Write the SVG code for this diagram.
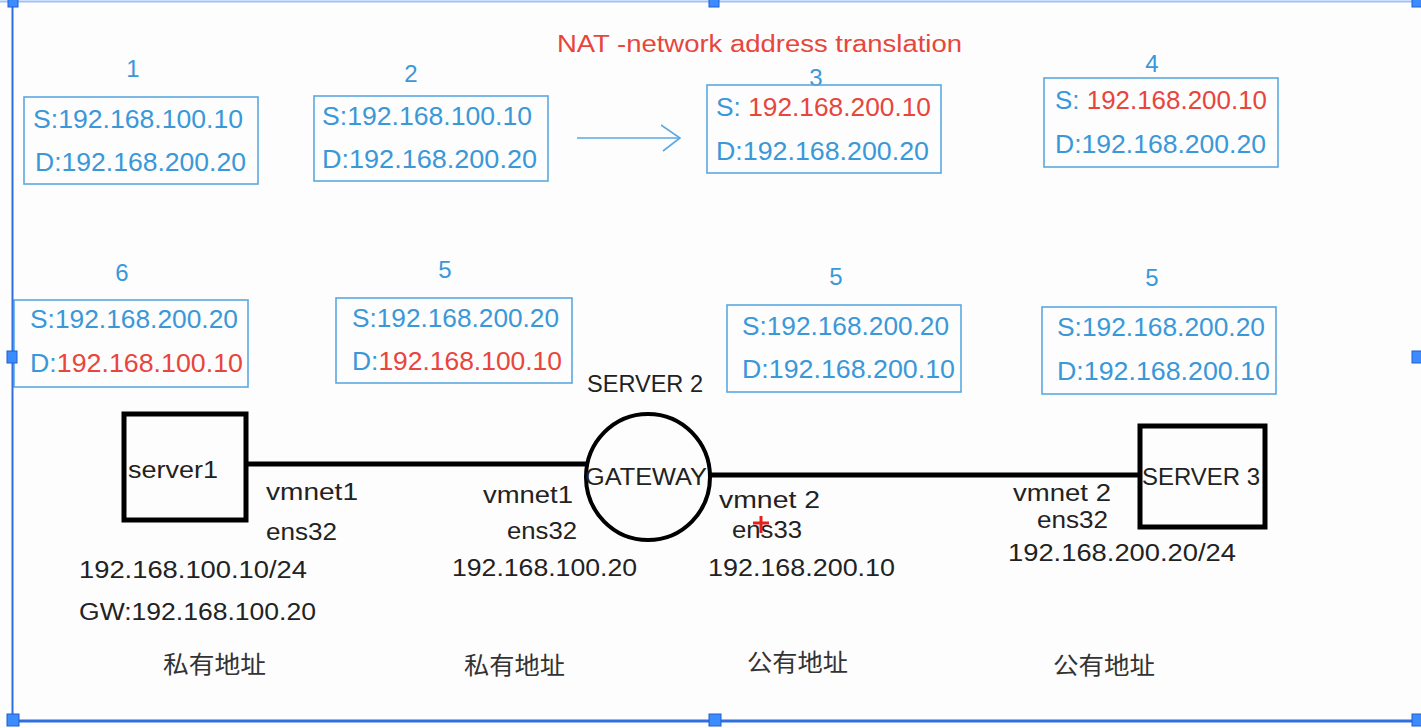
<svg xmlns="http://www.w3.org/2000/svg" width="1421" height="728" viewBox="0 0 1421 728">
<style>
.bg{fill:#fdfdfd}
.pkt{fill:none;stroke:#5aa9e0;stroke-width:1.6}
.bt{font-family:"Liberation Sans",Arial,sans-serif;font-size:25px;fill:#3a98d8}
.r{fill:#e8453c}
.num{font-family:"Liberation Sans",Arial,sans-serif;font-size:24px;fill:#3a98d8;text-anchor:middle}
.lbl{font-family:"Liberation Sans",Arial,sans-serif;font-size:23px;fill:#222}
.cjk{font-family:"Noto Sans CJK SC",sans-serif;font-size:24px;fill:#333}
.dev{fill:none;stroke:#000;stroke-width:5}
.wire{stroke:#000;stroke-width:5}
.sel{fill:#3c8cff;stroke:#1f5fd0;stroke-width:1}
</style>
<defs>
<marker id="chev" viewBox="0 0 20 30" refX="19" refY="15" markerWidth="20" markerHeight="30" markerUnits="userSpaceOnUse" orient="auto">
<path d="M0,2 L19,15 L2,28" fill="none" stroke="#5aa9e0" stroke-width="1.6"/>
</marker>
</defs>
<rect class="bg" x="0" y="0" width="1421" height="728"/>

<text x="557" y="52" font-family="Liberation Sans,Arial,sans-serif" font-size="23" fill="#e8453c" textLength="405" lengthAdjust="spacingAndGlyphs">NAT -network address translation</text>

<g id="packet1">
<text class="num" x="133" y="77">1</text>
<rect class="pkt" x="24" y="97" width="234" height="87"/>
<text class="bt" x="33" y="128" textLength="210" lengthAdjust="spacingAndGlyphs">S:192.168.100.10</text>
<text class="bt" x="35" y="171" textLength="211" lengthAdjust="spacingAndGlyphs">D:192.168.200.20</text>
</g>
<g id="packet2">
<text class="num" x="411" y="82">2</text>
<rect class="pkt" x="314" y="96" width="234" height="85"/>
<text class="bt" x="322" y="125" textLength="210" lengthAdjust="spacingAndGlyphs">S:192.168.100.10</text>
<text class="bt" x="322" y="168" textLength="215" lengthAdjust="spacingAndGlyphs">D:192.168.200.20</text>
</g>
<g id="packet3">
<text class="num" x="816" y="86">3</text>
<rect class="pkt" x="707" y="85" width="234" height="88"/>
<text class="bt" x="716" y="116" textLength="215" lengthAdjust="spacingAndGlyphs">S: <tspan class="r">192.168.200.10</tspan></text>
<text class="bt" x="716" y="160" textLength="213" lengthAdjust="spacingAndGlyphs">D:192.168.200.20</text>
</g>
<g id="packet4">
<text class="num" x="1152" y="72">4</text>
<rect class="pkt" x="1044" y="78" width="234" height="89"/>
<text class="bt" x="1055" y="109" textLength="212" lengthAdjust="spacingAndGlyphs">S: <tspan class="r">192.168.200.10</tspan></text>
<text class="bt" x="1055" y="153" textLength="211" lengthAdjust="spacingAndGlyphs">D:192.168.200.20</text>
</g>
<g id="packet6">
<text class="num" x="122" y="281">6</text>
<rect class="pkt" x="14" y="300" width="234" height="87"/>
<text class="bt" x="30" y="328" textLength="208" lengthAdjust="spacingAndGlyphs">S:192.168.200.20</text>
<text class="bt" x="30" y="372" textLength="213" lengthAdjust="spacingAndGlyphs">D:<tspan class="r">192.168.100.10</tspan></text>
</g>
<g id="packet5a">
<text class="num" x="445" y="278">5</text>
<rect class="pkt" x="336" y="298" width="236" height="85"/>
<text class="bt" x="352" y="327" textLength="207" lengthAdjust="spacingAndGlyphs">S:192.168.200.20</text>
<text class="bt" x="352" y="370" textLength="210" lengthAdjust="spacingAndGlyphs">D:<tspan class="r">192.168.100.10</tspan></text>
</g>
<g id="packet5b">
<text class="num" x="836" y="285">5</text>
<rect class="pkt" x="727" y="305" width="234" height="87"/>
<text class="bt" x="742" y="335" textLength="207" lengthAdjust="spacingAndGlyphs">S:192.168.200.20</text>
<text class="bt" x="742" y="378" textLength="213" lengthAdjust="spacingAndGlyphs">D:192.168.200.10</text>
</g>
<g id="packet5c">
<text class="num" x="1152" y="286">5</text>
<rect class="pkt" x="1042" y="307" width="234" height="87"/>
<text class="bt" x="1057" y="336" textLength="208" lengthAdjust="spacingAndGlyphs">S:192.168.200.20</text>
<text class="bt" x="1057" y="380" textLength="213" lengthAdjust="spacingAndGlyphs">D:192.168.200.10</text>
</g>

<g id="connectors">
<line x1="577" y1="138" x2="680" y2="138" stroke="#5aa9e0" stroke-width="1.6" marker-end="url(#chev)"/>
<line class="wire" x1="246" y1="464" x2="587" y2="464"/>
<line class="wire" x1="710" y1="475" x2="1142" y2="475"/>
</g>

<g id="server1">
<rect class="dev" x="124" y="414" width="122" height="106"/>
<text class="lbl" x="128" y="478" textLength="90" lengthAdjust="spacingAndGlyphs">server1</text>
</g>
<g id="gateway">
<text class="lbl" x="587" y="392" textLength="116" lengthAdjust="spacingAndGlyphs">SERVER 2</text>
<ellipse cx="648" cy="477" rx="62" ry="63" fill="none" stroke="#000" stroke-width="4"/>
<text class="lbl" x="585" y="485" textLength="122" lengthAdjust="spacingAndGlyphs">GATEWAY</text>
</g>
<g id="server3">
<rect class="dev" x="1140" y="426" width="125" height="101"/>
<text class="lbl" x="1142" y="485" textLength="118" lengthAdjust="spacingAndGlyphs">SERVER 3</text>
</g>

<g id="labels">
<text class="lbl" x="266" y="500" textLength="92" lengthAdjust="spacingAndGlyphs">vmnet1</text>
<text class="lbl" x="266" y="540" textLength="71" lengthAdjust="spacingAndGlyphs">ens32</text>
<text class="lbl" x="79" y="578" textLength="228" lengthAdjust="spacingAndGlyphs">192.168.100.10/24</text>
<text class="lbl" x="79" y="620" textLength="237" lengthAdjust="spacingAndGlyphs">GW:192.168.100.20</text>
<text class="cjk" x="163" y="673" textLength="103" lengthAdjust="spacingAndGlyphs">私有地址</text>

<text class="lbl" x="483" y="503" textLength="90" lengthAdjust="spacingAndGlyphs">vmnet1</text>
<text class="lbl" x="507" y="539" textLength="70" lengthAdjust="spacingAndGlyphs">ens32</text>
<text class="lbl" x="452" y="576" textLength="185" lengthAdjust="spacingAndGlyphs">192.168.100.20</text>
<text class="cjk" x="464" y="674" textLength="101" lengthAdjust="spacingAndGlyphs">私有地址</text>

<text class="lbl" x="719" y="508" textLength="101" lengthAdjust="spacingAndGlyphs">vmnet 2</text>
<text class="lbl" x="732" y="538" textLength="70" lengthAdjust="spacingAndGlyphs">ens33</text>
<text class="lbl" x="708" y="576" textLength="187" lengthAdjust="spacingAndGlyphs">192.168.200.10</text>
<text class="cjk" x="747" y="671" textLength="101" lengthAdjust="spacingAndGlyphs">公有地址</text>

<text class="lbl" x="1013" y="501" textLength="98" lengthAdjust="spacingAndGlyphs">vmnet 2</text>
<text class="lbl" x="1037" y="528" textLength="71" lengthAdjust="spacingAndGlyphs">ens32</text>
<text class="lbl" x="1008" y="561" textLength="228" lengthAdjust="spacingAndGlyphs">192.168.200.20/24</text>
<text class="cjk" x="1053" y="674" textLength="102" lengthAdjust="spacingAndGlyphs">公有地址</text>
</g>

<g id="cursor" stroke="#e8201a" stroke-width="3">
<line x1="761" y1="516" x2="761" y2="533"/>
<line x1="753" y1="523" x2="769" y2="523"/>
</g>

<g id="selection">
<line x1="0" y1="1.5" x2="1421" y2="1.5" stroke="#9cc3ff" stroke-width="2"/>
<line x1="12.5" y1="0" x2="12.5" y2="722" stroke="#2f6fe0" stroke-width="2"/>
<line x1="12" y1="721" x2="1421" y2="721" stroke="#2f6fe0" stroke-width="3"/>
<rect class="sel" x="8" y="-3" width="10" height="10"/>
<rect class="sel" x="709" y="-3" width="10" height="10"/>
<rect class="sel" x="1412" y="-3" width="10" height="10"/>
<rect class="sel" x="7" y="351" width="10" height="12"/>
<rect class="sel" x="1412" y="351" width="10" height="12"/>
<rect class="sel" x="7" y="714" width="12" height="12"/>
<rect class="sel" x="709" y="714" width="12" height="12"/>
<rect class="sel" x="1412" y="714" width="10" height="12"/>
</g>
</svg>
